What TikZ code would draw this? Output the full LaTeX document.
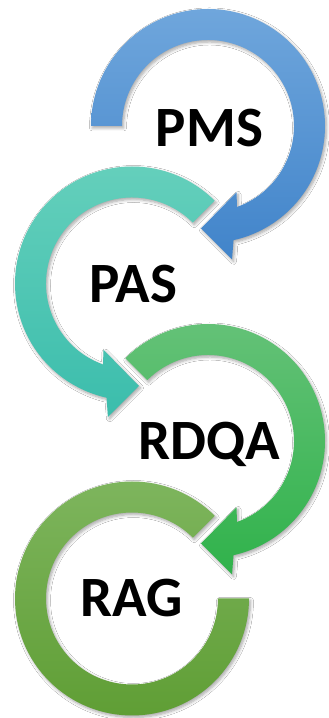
\documentclass[tikz,border=0pt]{standalone}
\usepackage{fontspec}
\setmainfont{Carlito}
\usetikzlibrary{shadows.blur}
\definecolor{blueT}{HTML}{6FA6DC}
\definecolor{blueB}{HTML}{4184CA}
\definecolor{tealT}{HTML}{66D0BC}
\definecolor{tealB}{HTML}{3BBDAC}
\definecolor{greenT}{HTML}{66C279}
\definecolor{greenB}{HTML}{30B24B}
\definecolor{ragT}{HTML}{7FB65F}
\definecolor{ragB}{HTML}{5E9D33}
\tikzset{
  ring/.style={blur shadow={shadow xshift=1.5pt,shadow yshift=-2pt,shadow blur radius=3pt,shadow blur steps=6,shadow opacity=35}},
  lbl/.style={font=\fontsize{57}{60}\selectfont\bfseries, inner sep=0pt, anchor=base, text=black},
}
\begin{document}
\begin{tikzpicture}[x=1pt,y=1pt]
\useasboundingbox[fill=white] (0,0) rectangle (329,718);
% RAG ring
\begin{scope}[shift={(132,119.5)}]
\shade[ring, top color=ragT, bottom color=ragB]
  (45:117) arc[start angle=45, end angle=360, radius=117]
  -- (0:86) arc[start angle=360, end angle=45, radius=86] -- cycle;
\end{scope}
% RDQA arrow
\begin{scope}[shift={(208,277)}]
\shade[ring, top color=greenT, bottom color=greenB]
  (135:117) arc[start angle=135, end angle=-77.4, radius=117]
  -- (24,-133.5) -- (-7,-102.5) -- (28.5,-66.3)
  -- (-70.3:86) arc[start angle=-70.3, end angle=135, radius=86] -- cycle;
\end{scope}
% PAS arrow
\begin{scope}[shift={(132,434.5)}]
\shade[ring, top color=tealT, bottom color=tealB]
  (45:117) arc[start angle=45, end angle=257.4, radius=117]
  -- (-24,-133.5) -- (7,-102.5) -- (-28.5,-66.3)
  -- (250.3:86) arc[start angle=250.3, end angle=45, radius=86] -- cycle;
\end{scope}
% PMS arrow
\begin{scope}[shift={(208,592)}]
\shade[ring, top color=blueT, bottom color=blueB]
  (180:117) arc[start angle=180, end angle=-77.4, radius=117]
  -- (24,-133.5) -- (-7,-102.5) -- (28.5,-66.3)
  -- (-70.3:86) arc[start angle=-70.3, end angle=180, radius=86] -- cycle;
\end{scope}
\node[lbl] (pms) at (209.5,571) {PMS};
\node[lbl] (pas) at (133,415) {PAS};
\node[lbl] (rdqa) at (209,258.5) {RDQA};
\node[lbl] (rag) at (132,101) {RAG};
\end{tikzpicture}
\end{document}
